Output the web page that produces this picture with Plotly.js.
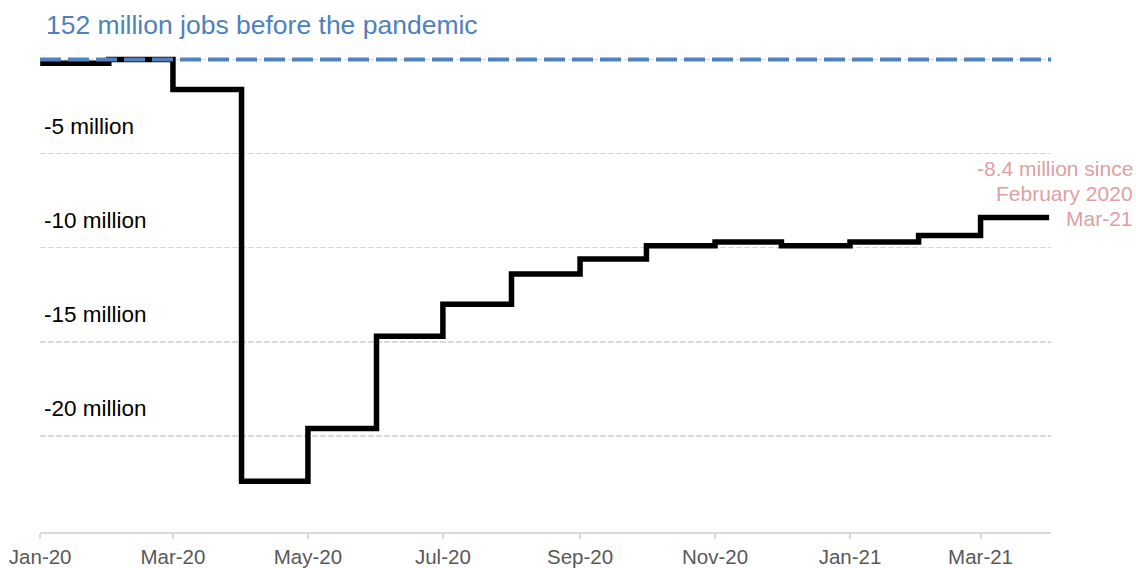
<!DOCTYPE html>
<html>
<head>
<meta charset="utf-8">
<script src="https://cdn.plot.ly/plotly-3.0.1.min.js"></script>
<style>html,body{margin:0;padding:0;background:#fff;}#chart{width:1136px;height:568px;}</style>
</head>
<body>
<div id="chart"></div>
<script>
// Month (start date) of each observation
var months = ['2020-01-01','2020-02-01','2020-03-01','2020-04-01','2020-05-01','2020-06-01','2020-07-01','2020-08-01','2020-09-01','2020-10-01','2020-11-01','2020-12-01','2021-01-01','2021-02-01','2021-03-01'];
// Change in jobs since February 2020 (millions)
var jobChange = [-0.2, 0, -1.6, -22.4, -19.6, -14.7, -13.0, -11.4, -10.6, -9.9, -9.7, -9.9, -9.7, -9.35, -8.4];
var periodEnd = '2021-04-01';
var baseline = 0;
var baselineLabel = '152 million jobs before the pandemic';
var yTickVals = [0, -5, -10, -15, -20];
var yTickText = ['', '-5 million', '-10 million', '-15 million', '-20 million'];
var xTickVals = ['2020-01-01','2020-03-01','2020-05-01','2020-07-01','2020-09-01','2020-11-01','2021-01-01','2021-03-01'];
var xTickText = ['Jan-20','Mar-20','May-20','Jul-20','Sep-20','Nov-20','Jan-21','Mar-21'];
var lastLabel = 'Mar-21';

var xs = months.concat([periodEnd]);
var ys = jobChange.concat([jobChange[jobChange.length - 1]]);
var FONT = 'Liberation Sans, Arial, sans-serif';
var lastVal = jobChange[jobChange.length - 1];

var traces = [{
  x: xs, y: ys, type: 'scatter', mode: 'lines',
  line: {shape: 'hv', color: '#000000', width: 5.5},
  hoverinfo: 'skip', showlegend: false
}];

var annotations = [];
// y-axis labels placed above their gridlines
yTickVals.forEach(function (v, i) {
  if (!yTickText[i]) return;
  annotations.push({
    xref: 'paper', x: 0, xanchor: 'left', xshift: 2,
    yref: 'y', y: v, yanchor: 'bottom', yshift: 13,
    text: yTickText[i], showarrow: false,
    font: {family: FONT, size: 22.5, color: '#000000'}
  });
});
// end label
var endLines = [lastVal + ' million since', 'February 2020', lastLabel];
endLines.forEach(function (t, i) {
  annotations.push({
    xref: 'paper', x: 1 + (1135 - 1051) / 1011, xanchor: 'right', align: 'right',
    yref: 'y', y: lastVal, yanchor: 'middle', yshift: (endLines.length - 1 - i) * 25 - 1,
    text: t, showarrow: false,
    font: {family: FONT, size: 21, color: '#e0a0a0'}
  });
});

var layout = {
  width: 1136, height: 568,
  margin: {l: 40, r: 85, t: 50, b: 36},
  paper_bgcolor: '#ffffff', plot_bgcolor: '#ffffff',
  showlegend: false,
  font: {family: FONT, color: '#000000'},
  title: {
    text: baselineLabel,
    font: {family: FONT, size: 26.5, color: '#4f81bd'},
    xref: 'container', x: 46 / 1136, xanchor: 'left',
    yref: 'container', y: 1 - 25 / 568, yanchor: 'middle'
  },
  xaxis: {
    type: 'date',
    range: ['2019-12-31 22:00', '2021-04-01 20:00'],
    tickmode: 'array', tickvals: xTickVals, ticktext: xTickText,
    ticks: 'outside', ticklen: 5, tickcolor: '#d9d9d9', tickwidth: 2,
    showline: true, linecolor: '#d9d9d9', linewidth: 2,
    showgrid: false, zeroline: false,
    tickfont: {family: FONT, size: 20.5, color: '#595959'}
  },
  yaxis: {
    range: [-25.1, 0.5],
    tickmode: 'array', tickvals: yTickVals, showticklabels: false,
    ticks: '', showline: false, zeroline: false,
    showgrid: true, gridcolor: '#d9d9d9', gridwidth: 1.5, griddash: '6px,2px'
  },
  shapes: [{
    type: 'line', xref: 'paper', x0: 0, x1: 1, yref: 'y', y0: baseline, y1: baseline,
    line: {color: '#4f81bd', width: 4, dash: '21px,7px'}, layer: 'above'
  }],
  annotations: annotations
};

Plotly.newPlot('chart', traces, layout, {displayModeBar: false, staticPlot: true});
</script>
</body>
</html>
